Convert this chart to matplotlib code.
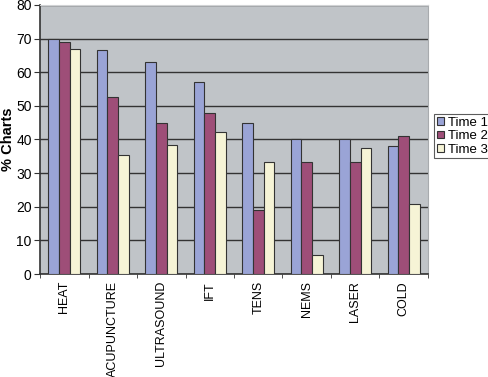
import numpy as np
import matplotlib.pyplot as plt

plt.rcParams['font.family'] = ['Liberation Sans', 'DejaVu Sans']

# data
categories = ['HEAT', 'ACUPUNCTURE', 'ULTRASOUND', 'IFT', 'TENS', 'NEMS', 'LASER', 'COLD']
time1 = [70, 66.5, 63, 57, 45, 40, 40, 38]
time2 = [69, 52.7, 44.8, 47.8, 19, 33.2, 33.2, 41]
time3 = [67, 35.4, 38.4, 42.2, 33.2, 5.8, 37.4, 20.8]
series_names = ['Time 1', 'Time 2', 'Time 3']
colors = ['#9aa4d6', '#9e4e78', '#f6f4d6']

fig = plt.figure(figsize=(4.88, 3.77), dpi=100)
ax = fig.add_axes([0.082, 0.273, 0.795, 0.714])
ax.set_facecolor('#c0c4c8')

x = np.arange(len(categories))
w = 1 / 4.5
for i, (vals, name, c) in enumerate(zip([time1, time2, time3], series_names, colors)):
    ax.bar(x + (i - 1) * w, vals, width=w, color=c, edgecolor='#333333',
           linewidth=0.8, label=name, zorder=3)

ax.set_xlim(-0.5, len(categories) - 0.5)
ax.set_ylim(0, 80)
ax.set_yticks(range(0, 81, 10))
ax.yaxis.grid(True, color='#333333', linewidth=1.0, zorder=1)
ax.set_xticks(x)
ax.set_xticklabels(categories, rotation=90, fontsize=9)
ax.set_xticks(np.arange(-0.5, len(categories), 1), minor=True)
ax.tick_params(axis='x', which='major', length=0, pad=5)
ax.tick_params(axis='x', which='minor', length=3, color='#333333')
ax.tick_params(axis='y', labelsize=10, length=4, color='#333333', pad=2)
ax.set_ylabel('% Charts', fontsize=10.5, fontweight='bold', labelpad=1)

ax.spines['top'].set_color('#d0d2d4')
ax.spines['right'].set_color('#a8abae')
ax.spines['left'].set_color('#333333')
ax.spines['bottom'].set_color('#333333')
ax.spines['left'].set_linewidth(1.2)
ax.spines['bottom'].set_linewidth(1.2)

leg = fig.legend(loc='upper left', bbox_to_anchor=(0.89, 0.697), fontsize=9.5,
                 handlelength=0.55, handleheight=0.55, handletextpad=0.25,
                 borderpad=0.2, labelspacing=0.1, frameon=True, fancybox=False,
                 borderaxespad=0)
leg.get_frame().set_edgecolor('#333333')
leg.get_frame().set_linewidth(0.8)

fig.savefig('out.png', dpi=100)
